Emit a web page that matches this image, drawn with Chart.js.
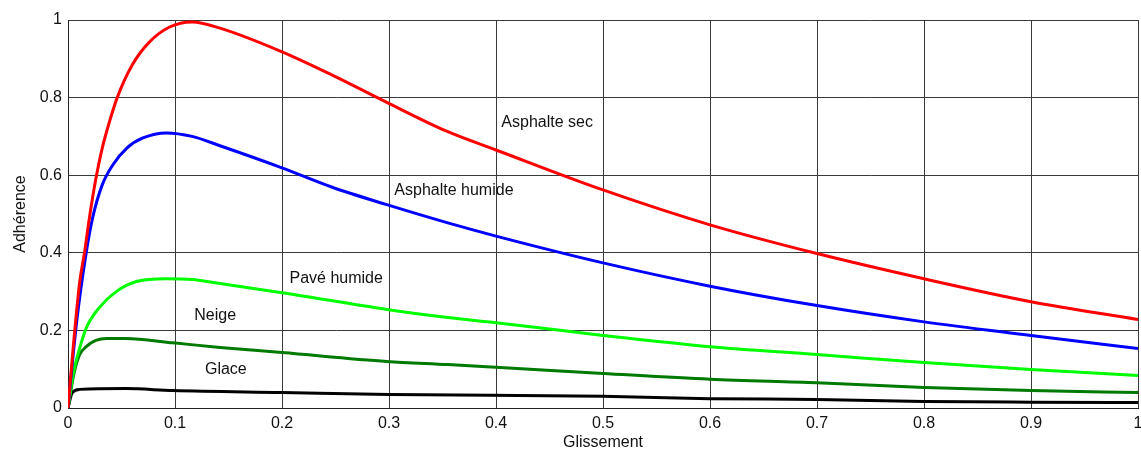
<!DOCTYPE html>
<html>
<head>
<meta charset="utf-8">
<script src="https://cdn.jsdelivr.net/npm/chart.js@4/dist/chart.umd.min.js"></script>
<style>
  html, body { margin: 0; padding: 0; background: #fff; }
  #wrap { width: 1141px; height: 454px; }
</style>
</head>
<body>
<div id="wrap"><canvas id="slipChart"></canvas></div>
<script>
// slip / adhesion values
const redSlip = [0, 0.005, 0.011, 0.0154, 0.020, 0.026, 0.032, 0.039, 0.046, 0.060, 0.076, 0.095, 0.116, 0.142, 0.2, 0.247, 0.297, 0.355, 0.4, 0.5, 0.6, 0.7, 0.8, 0.9, 1.0];
const redMu   = [0, 0.16, 0.326, 0.40, 0.49, 0.59, 0.67, 0.74, 0.80, 0.884, 0.943, 0.982, 0.995, 0.979, 0.918, 0.858, 0.789, 0.712, 0.665, 0.562, 0.472, 0.398, 0.333, 0.274, 0.228];

const blueSlip = [0, 0.008, 0.017, 0.023, 0.032, 0.042, 0.055, 0.07, 0.092, 0.116, 0.142, 0.2, 0.247, 0.298, 0.355, 0.4, 0.5, 0.6, 0.7, 0.8, 0.9, 1.0];
const blueMu   = [0, 0.22, 0.40, 0.49, 0.575, 0.627, 0.67, 0.696, 0.709, 0.70, 0.676, 0.619, 0.569, 0.524, 0.477, 0.443, 0.374, 0.314, 0.264, 0.222, 0.187, 0.153];

const paveSlip = [0, 0.005, 0.011, 0.017, 0.029, 0.045, 0.064, 0.092, 0.116, 0.142, 0.2, 0.298, 0.355, 0.4, 0.5, 0.6, 0.7, 0.8, 0.9, 1.0];
const paveMu   = [0, 0.09, 0.155, 0.206, 0.258, 0.30, 0.326, 0.333, 0.331, 0.321, 0.297, 0.254, 0.233, 0.22, 0.187, 0.158, 0.138, 0.117, 0.099, 0.084];

const neigeSlip = [0, 0.006, 0.011, 0.017, 0.026, 0.036, 0.054, 0.098, 0.142, 0.2, 0.298, 0.355, 0.4, 0.5, 0.6, 0.7, 0.8, 0.9, 1.0];
const neigeMu   = [0, 0.094, 0.138, 0.158, 0.174, 0.179, 0.179, 0.168, 0.156, 0.143, 0.12, 0.112, 0.105, 0.089, 0.074, 0.065, 0.053, 0.045, 0.04];

const glaceSlip = [0, 0.004, 0.011, 0.054, 0.098, 0.2, 0.3, 0.5, 0.6, 0.7, 0.8, 0.9, 1.0];
const glaceMu   = [0, 0.04, 0.048, 0.05, 0.045, 0.04, 0.035, 0.03, 0.024, 0.022, 0.017, 0.015, 0.014];

const xTicks = [0, 0.1, 0.2, 0.3, 0.4, 0.5, 0.6, 0.7, 0.8, 0.9, 1];
const yTicks = [0, 0.2, 0.4, 0.6, 0.8, 1];

// curve names written inside the plot, anchored in data units
const curveLabels = [
    { text: 'Asphalte sec',    s: 0.405, mu: 0.735 },
    { text: 'Asphalte humide', s: 0.305, mu: 0.560 },
    { text: 'Pavé humide',     s: 0.207, mu: 0.333 },
    { text: 'Neige',           s: 0.118, mu: 0.238 },
    { text: 'Glace',           s: 0.128, mu: 0.099 }
];

function toPoints(xs, ys) {
    return xs.map((x, i) => ({ x: x, y: ys[i] }));
}

function makeSet(label, xs, ys, color) {
    return {
        label: label,
        data: toPoints(xs, ys),
        borderColor: color,
        backgroundColor: color,
        borderWidth: 3,
        pointRadius: 0,
        cubicInterpolationMode: 'monotone',
        fill: false
    };
}

const labelPlugin = {
    id: 'curveLabels',
    afterDatasetsDraw(chart) {
        const ctx = chart.ctx;
        const xs = chart.scales.x;
        const ys = chart.scales.y;
        ctx.save();
        ctx.font = '16px "Liberation Sans", Arial, sans-serif';
        ctx.fillStyle = '#111';
        ctx.textAlign = 'left';
        ctx.textBaseline = 'middle';
        curveLabels.forEach(l => {
            ctx.fillText(l.text, xs.getPixelForValue(l.s), ys.getPixelForValue(l.mu));
        });
        ctx.restore();
    }
};

Chart.defaults.font.family = '"Liberation Sans", Arial, sans-serif';
Chart.defaults.color = '#111';

const ctx = document.getElementById('slipChart').getContext('2d');

new Chart(ctx, {
    type: 'line',
    data: {
        datasets: [
            makeSet('Asphalte sec', redSlip, redMu, '#ff0000'),
            makeSet('Asphalte humide', blueSlip, blueMu, '#0000ff'),
            makeSet('Pavé humide', paveSlip, paveMu, '#00ff00'),
            makeSet('Neige', neigeSlip, neigeMu, '#007a00'),
            makeSet('Glace', glaceSlip, glaceMu, '#000000')
        ]
    },
    options: {
        responsive: true,
        maintainAspectRatio: false,
        animation: false,
        layout: {
            padding: { left: 6, right: 3, top: 20, bottom: 0 }
        },
        plugins: {
            legend: { display: false },
            tooltip: { enabled: false }
        },
        scales: {
            x: {
                type: 'linear',
                min: 0,
                max: 1,
                afterBuildTicks: scale => { scale.ticks = xTicks.map(v => ({ value: v })); },
                afterFit: scale => {
                    scale.height = 46;
                    scale.paddingLeft = 0;
                    scale.paddingRight = 0;
                },
                ticks: {
                    font: { size: 16 },
                    padding: 6,
                    maxRotation: 0,
                    autoSkip: false,
                    callback: v => String(+v.toFixed(1))
                },
                grid: {
                    color: '#3a3a3a',
                    lineWidth: 1,
                    drawTicks: false
                },
                border: { display: true, color: '#222', width: 1 },
                title: {
                    display: true,
                    text: 'Glissement',
                    font: { size: 16 },
                    padding: { top: 0, bottom: 2 }
                }
            },
            y: {
                type: 'linear',
                min: 0,
                max: 1,
                afterBuildTicks: scale => { scale.ticks = yTicks.map(v => ({ value: v })); },
                afterFit: scale => { scale.width = 62; },
                ticks: {
                    font: { size: 16 },
                    padding: 6,
                    callback: v => String(+v.toFixed(1))
                },
                grid: {
                    color: '#3a3a3a',
                    lineWidth: 1,
                    drawTicks: false
                },
                border: { display: true, color: '#222', width: 1 },
                title: {
                    display: true,
                    text: 'Adhérence',
                    font: { size: 16 },
                    padding: { top: 5, bottom: 0 }
                }
            }
        }
    },
    plugins: [labelPlugin]
});
</script>
</body>
</html>
